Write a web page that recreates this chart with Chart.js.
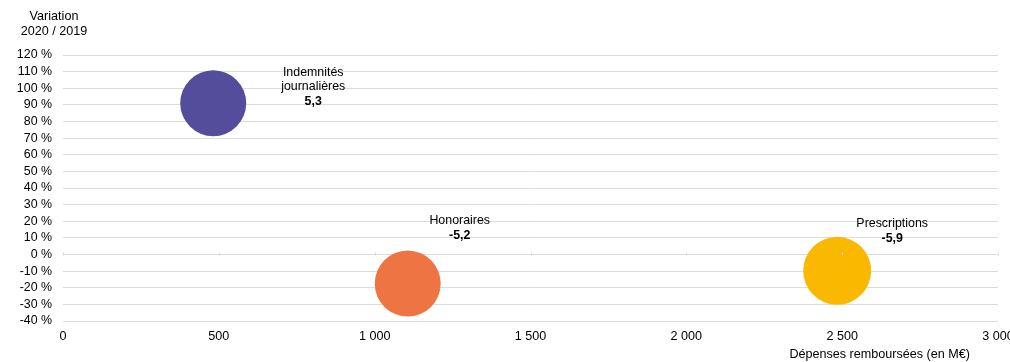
<!DOCTYPE html>
<html>
<head>
<meta charset="utf-8">
<script src="https://cdn.jsdelivr.net/npm/chart.js@4"></script>
<style>
  html, body { margin: 0; padding: 0; background: #fff; }
  #wrap { width: 1010px; height: 362px; position: relative; }
</style>
</head>
<body>
<div id="wrap"><canvas id="bubbleChart"></canvas></div>
<script>
// data
const categories = ['Indemnités journalières', 'Honoraires', 'Prescriptions'];
const labelLines = [['Indemnités', 'journalières'], ['Honoraires'], ['Prescriptions']];
const depenses = [482, 1106, 2484];      // M€
const variation = [91, -17.5, -9.8];      // %
const bubbleSize = [33, 33, 34];
const valueLabels = ['5,3', '-5,2', '-5,9'];
const xTicks = [0, 500, 1000, 1500, 2000, 2500, 3000];
const colors = ['#534d9c', '#ee7543', '#fbb800'];

// where each label sits relative to its bubble (px)
const labelOffsets = [[100, -31], [52, -63], [55, -47]];

const FONT = '"Liberation Sans", Arial, sans-serif';

function spaced(n) {
    return n.toString().replace(/\B(?=(\d{3})+(?!\d))/g, ' ');
}

const textPlugin = {
    id: 'textPlugin',
    afterDatasetsDraw(chart) {
        const ctx = chart.ctx;
        const area = chart.chartArea;
        const xs = chart.scales.x;
        const ys = chart.scales.y;
        ctx.save();
        ctx.fillStyle = '#000';
        ctx.textAlign = 'center';
        ctx.textBaseline = 'middle';

        // little ticks on the zero line
        ctx.strokeStyle = '#d9d9d9';
        ctx.lineWidth = 1;
        const y0 = Math.round(ys.getPixelForValue(0)) + 0.5;
        xTicks.forEach(v => {
            const px = Math.round(xs.getPixelForValue(v)) + 0.5;
            ctx.beginPath();
            ctx.moveTo(px, y0);
            ctx.lineTo(px, y0 - 3);
            ctx.stroke();
        });

        // labels next to bubbles
        const meta = chart.getDatasetMeta(0);
        meta.data.forEach((pt, i) => {
            const cx = pt.x + labelOffsets[i][0];
            let cy = pt.y + labelOffsets[i][1];
            ctx.font = '12.4px ' + FONT;
            labelLines[i].forEach(line => {
                ctx.fillText(line, cx, cy);
                cy += 14.8;
            });
            ctx.font = 'bold 12.4px ' + FONT;
            ctx.fillText(valueLabels[i], cx, cy);
        });

        // axis titles
        ctx.font = '12.6px ' + FONT;
        ctx.fillText('Variation', 54, 17);
        ctx.fillText('2020 / 2019', 54, 32);
        ctx.textAlign = 'right';
        ctx.fillText('Dépenses remboursées (en M€)', area.right - 28, 355);
        ctx.restore();
    }
};

const ctx = document.getElementById('bubbleChart').getContext('2d');
const bubblechart = new Chart(ctx, {
    type: 'bubble',
    data: {
        datasets: [{
            label: 'Dépenses',
            data: categories.map((c, i) => ({ x: depenses[i], y: variation[i], r: bubbleSize[i] })),
            backgroundColor: colors,
            borderWidth: 0,
            hoverBorderWidth: 0
        }]
    },
    options: {
        responsive: true,
        maintainAspectRatio: false,
        animation: false,
        layout: { autoPadding: false, padding: { top: 55, right: 12, left: 0, bottom: 0 } },
        plugins: {
            legend: { display: false },
            tooltip: { enabled: false }
        },
        scales: {
            x: {
                type: 'linear',
                min: 0,
                max: 3000,
                afterBuildTicks: s => { s.ticks = xTicks.map(v => ({ value: v })); },
                grid: { display: false, drawTicks: false },
                border: { display: false },
                ticks: {
                    padding: 8,
                    maxRotation: 0,
                    autoSkip: false,
                    color: '#000',
                    font: { size: 12.6, family: FONT },
                    callback: v => spaced(v)
                },
                afterFit: s => { s.height = 41; s.paddingLeft = 0; s.paddingRight = 0; }
            },
            y: {
                min: -40,
                max: 120,
                grid: { color: '#dcdcdc', lineWidth: 1, drawTicks: false },
                border: { display: false },
                ticks: {
                    stepSize: 10,
                    padding: 11,
                    autoSkip: false,
                    color: '#000',
                    font: { size: 12.4, family: FONT },
                    callback: v => v + ' %'
                },
                afterFit: s => { s.width = 63; s.paddingTop = 0; s.paddingBottom = 0; }
            }
        }
    },
    plugins: [textPlugin]
});
</script>
</body>
</html>
